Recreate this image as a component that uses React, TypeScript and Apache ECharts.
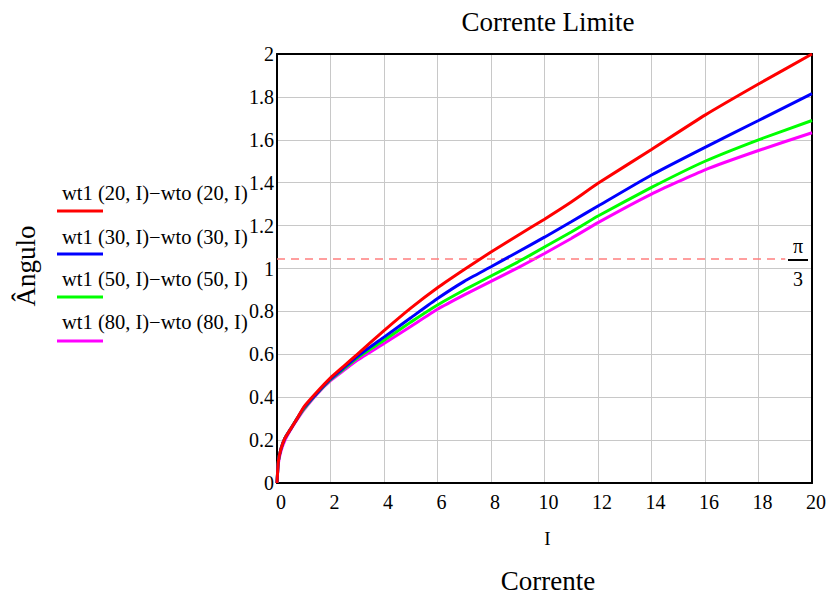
import React, { useEffect, useRef } from "react";
import * as echarts from "echarts";

const xValues = [0, 0.05, 0.15, 0.3, 0.5, 0.75, 1, 1.5, 2, 2.5, 3, 4, 5, 6, 7, 8, 9, 10, 11, 12, 14, 16, 18, 20];
const red = [0, 0.1, 0.16, 0.21, 0.25, 0.3, 0.354, 0.425, 0.49, 0.545, 0.6, 0.71, 0.815, 0.91, 0.995, 1.077, 1.154, 1.23, 1.31, 1.397, 1.555, 1.715, 1.86, 2.0];
const blue = [0, 0.1, 0.16, 0.21, 0.25, 0.3, 0.35, 0.42, 0.485, 0.538, 0.59, 0.68, 0.77, 0.86, 0.94, 1.008, 1.077, 1.146, 1.218, 1.291, 1.436, 1.565, 1.69, 1.815];
const green = [0, 0.1, 0.16, 0.21, 0.25, 0.3, 0.345, 0.418, 0.482, 0.532, 0.583, 0.665, 0.75, 0.83, 0.9, 0.965, 1.03, 1.1, 1.17, 1.245, 1.378, 1.5, 1.6, 1.69];
const magenta = [0, 0.09, 0.15, 0.2, 0.246, 0.295, 0.34, 0.415, 0.477, 0.525, 0.572, 0.65, 0.73, 0.81, 0.877, 0.94, 1.003, 1.07, 1.14, 1.214, 1.347, 1.46, 1.55, 1.633];

const seriesNames = [
  "wt1 (20, I)−wto (20, I)",
  "wt1 (30, I)−wto (30, I)",
  "wt1 (50, I)−wto (50, I)",
  "wt1 (80, I)−wto (80, I)",
];
const seriesColors = ["#ff0000", "#0000ff", "#00ff00", "#ff00ff"];
const seriesData = [red, blue, green, magenta];

const piThird = [1.0472];
const piLineRange = [0, 19];

const FONT = "'Liberation Serif', 'Times New Roman', serif";

export default function App() {
  const ref = useRef<HTMLDivElement>(null);
  useEffect(() => {
    if (!ref.current) return;
    const chart = echarts.init(ref.current, null, { renderer: "svg" });
    const gridLeft = 277, gridTop = 54, gridW = 536, gridH = 429;
    const legendGraphics: any[] = [];
    const textY = [193, 237, 279, 322];
    const lineY = [211, 254, 297, 341];
    seriesNames.forEach((n, i) => {
      legendGraphics.push({
        type: "text",
        x: 62,
        y: textY[i],
        style: { text: n, font: `20.5px ${FONT}`, fill: "#000", verticalAlign: "middle" },
        z: 10,
      });
      legendGraphics.push({
        type: "line",
        shape: { x1: 57, y1: lineY[i], x2: 103, y2: lineY[i] },
        style: { stroke: seriesColors[i], lineWidth: 3 },
        z: 10,
      });
    });
    const option: any = {
      animation: false,
      backgroundColor: "#fff",
      grid: { left: gridLeft, top: gridTop, width: gridW, height: gridH, show: false },
      xAxis: [
        {
          type: "value",
          min: 0,
          max: 20,
          interval: 2,
          axisLine: { show: true, onZero: false, lineStyle: { color: "#000", width: 2 } },
          axisTick: { show: false },
          splitLine: { show: true, lineStyle: { color: "#c8c8c8", width: 1 } },
          axisLabel: {
            color: "#000",
            fontFamily: FONT,
            fontSize: 20,
            margin: 9,
            padding: [0, 0, 0, 8],
          },
          name: "I",
          nameLocation: "middle",
          nameGap: 46,
          nameTextStyle: { color: "#000", fontFamily: FONT, fontSize: 19, padding: [0, 0, 0, 6] },
        },
        {
          type: "value",
          min: 0,
          max: 20,
          interval: 2,
          position: "top",
          axisLine: { show: true, onZero: false, lineStyle: { color: "#000", width: 2 } },
          axisTick: { show: false },
          axisLabel: { show: false },
          splitLine: { show: false },
        },
      ],
      yAxis: [
        {
          type: "value",
          min: 0,
          max: 2,
          interval: 0.2,
          axisLine: { show: true, onZero: false, lineStyle: { color: "#000", width: 2 } },
          axisTick: { show: false },
          splitLine: { show: true, lineStyle: { color: "#c8c8c8", width: 1 } },
          axisLabel: {
            color: "#000",
            fontFamily: FONT,
            fontSize: 20,
            margin: 3,
            verticalAlign: "middle",
            padding: [10, 0, 0, 0],
          },
        },
        {
          type: "value",
          min: 0,
          max: 2,
          interval: 0.2,
          position: "right",
          axisLine: { show: true, onZero: false, lineStyle: { color: "#000", width: 2 } },
          axisTick: { show: false },
          axisLabel: { show: false },
          splitLine: { show: false },
        },
      ],
      series: [
        ...seriesData.map((d, i) => ({
          type: "line",
          name: seriesNames[i],
          data: d.map((v, j) => [xValues[j], v]),
          showSymbol: false,
          symbol: "none",
          smooth: 0.15,
          lineStyle: { color: seriesColors[i], width: 3 },
          z: 7 - i,
        })),
        {
          type: "line",
          data: [],
          markLine: {
            silent: true,
            symbol: "none",
            label: { show: false },
            lineStyle: { color: "#ff7f7f", type: [8, 6], width: 1.5 },
            data: [
              [
                { coord: [piLineRange[0], piThird[0]] },
                { coord: [piLineRange[1], piThird[0]] },
              ],
            ],
          },
        },
      ],
      graphic: [
        ...legendGraphics,
        {
          type: "text",
          x: 548,
          y: 22,
          style: {
            text: "Corrente Limite",
            font: `27px ${FONT}`,
            fill: "#000",
            align: "center",
            verticalAlign: "middle",
          },
        },
        {
          type: "text",
          rotation: Math.PI / 2,
          x: 26,
          y: 266,
          style: {
            text: "Ângulo",
            font: `27px ${FONT}`,
            fill: "#000",
            align: "center",
            verticalAlign: "middle",
          },
        },
        {
          type: "text",
          x: 548,
          y: 581,
          style: {
            text: "Corrente",
            font: `27px ${FONT}`,
            fill: "#000",
            align: "center",
            verticalAlign: "middle",
          },
        },
        {
          type: "line",
          shape: { x1: 788, y1: 260, x2: 808, y2: 260 },
          style: { stroke: "#000", lineWidth: 2 },
          z: 10,
        },
        {
          type: "text",
          x: 798,
          y: 246,
          style: { text: "π", font: `20px ${FONT}`, fill: "#000", align: "center", verticalAlign: "middle" },
          z: 10,
        },
        {
          type: "text",
          x: 798,
          y: 279,
          style: { text: "3", font: `20px ${FONT}`, fill: "#000", align: "center", verticalAlign: "middle" },
          z: 10,
        },
      ],
    };
    chart.setOption(option);
    return () => chart.dispose();
  }, []);
  return (
    <div
      ref={ref}
      style={{ position: "fixed", left: 0, top: 0, width: 829, height: 596, background: "#fff" }}
    />
  );
}
